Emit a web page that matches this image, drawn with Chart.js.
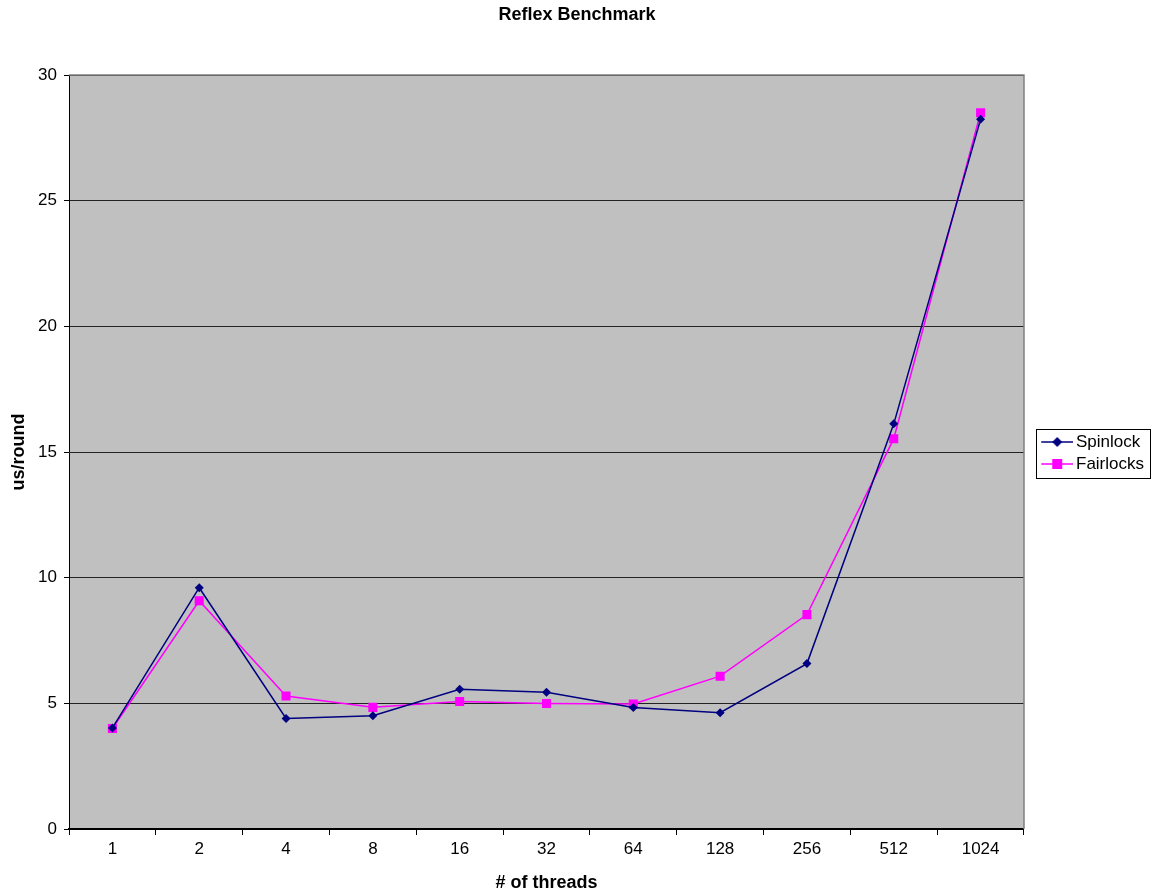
<!DOCTYPE html>
<html>
<head>
<meta charset="utf-8">
<script src="https://cdn.jsdelivr.net/npm/chart.js@4"></script>
<style>
  body { margin: 0; background: #fff; }
  #wrap { width: 1160px; height: 894px; }
</style>
</head>
<body>
<div id="wrap"><canvas id="chart" width="1160" height="894"></canvas></div>
<script>
const threads = ['1', '2', '4', '8', '16', '32', '64', '128', '256', '512', '1024'];
const spinlock = [4.02, 9.6, 4.4, 4.51, 5.56, 5.44, 4.83, 4.63, 6.58, 16.12, 28.24];
const fairlocks = [4.0, 9.08, 5.29, 4.84, 5.07, 4.99, 4.97, 6.08, 8.53, 15.53, 28.5];
const yTicks = [0, 5, 10, 15, 20, 25, 30];

const font = 'Liberation Sans, Arial, sans-serif';

// legend icon: a short line with the marker on it (drawn centred on the legend box)
function legendIcon(color, style) {
    const c = document.createElement('canvas');
    c.width = 50; c.height = 12;
    const ctx = c.getContext('2d');
    ctx.strokeStyle = color;
    ctx.lineWidth = 1.5;
    ctx.beginPath();
    ctx.moveTo(18, 6); ctx.lineTo(50, 6);
    ctx.stroke();
    ctx.fillStyle = color;
    if (style === 'diamond') {
        ctx.beginPath();
        ctx.moveTo(34, 1); ctx.lineTo(39, 6); ctx.lineTo(34, 11); ctx.lineTo(29, 6);
        ctx.closePath();
        ctx.fill();
    } else {
        ctx.fillRect(29, 1, 10, 10);
    }
    return c;
}

const plotFrame = {
    id: 'plotFrame',
    beforeDraw(chart) {
        const {ctx, chartArea: a} = chart;
        ctx.save();
        ctx.fillStyle = '#c0c0c0';
        ctx.fillRect(a.left, a.top, a.right - a.left, a.bottom - a.top);
        ctx.restore();
    },
    afterDraw(chart) {
        const {ctx, chartArea: a} = chart;
        ctx.save();
        ctx.strokeStyle = '#808080';
        ctx.lineWidth = 1.5;
        ctx.beginPath();
        ctx.moveTo(a.left, a.top); ctx.lineTo(a.right, a.top); ctx.lineTo(a.right, a.bottom);
        ctx.stroke();
        // legend frame
        const boxes = chart.legend.legendHitBoxes;
        if (boxes.length) {
            const x0 = Math.min(...boxes.map(b => b.left)) + 7;
            const x1 = Math.max(...boxes.map(b => b.left + b.width)) + 6;
            const y0 = Math.min(...boxes.map(b => b.top)) - 5;
            const y1 = Math.max(...boxes.map(b => b.top + b.height)) + 5;
            ctx.strokeStyle = '#000';
            ctx.lineWidth = 1;
            ctx.strokeRect(Math.round(x0) + 0.5, Math.round(y0) + 0.5, Math.round(x1 - x0), Math.round(y1 - y0));
        }
        ctx.restore();
    }
};

new Chart(document.getElementById('chart'), {
    type: 'line',
    data: {
        labels: threads,
        datasets: [{
            label: 'Spinlock',
            data: spinlock,
            borderColor: '#000080',
            backgroundColor: '#000080',
            borderWidth: 1.5,
            pointStyle: 'rectRot',
            pointRadius: 4.5,
            pointBorderWidth: 0,
            tension: 0
        }, {
            label: 'Fairlocks',
            data: fairlocks,
            borderColor: '#ff00ff',
            backgroundColor: '#ff00ff',
            borderWidth: 1.5,
            pointStyle: 'rect',
            pointRadius: 6.4,
            pointBorderWidth: 0,
            tension: 0
        }]
    },
    options: {
        responsive: false,
        animation: false,
        layout: { padding: { right: 6, bottom: 0 } },
        plugins: {
            title: {
                display: true,
                text: 'Reflex Benchmark',
                color: '#000',
                font: { family: font, size: 18, weight: 'bold' },
                padding: { top: 4.5, bottom: 48.9 }
            },
            legend: {
                position: 'right',
                align: 'center',
                // empty title only to push the items a little lower
                title: { display: true, text: ' ', font: { size: 1 }, padding: { top: 5.4, bottom: 5.4 } },
                labels: {
                    color: '#000',
                    font: { family: font, size: 17 },
                    usePointStyle: true,
                    pointStyleWidth: 38.5,
                    padding: 5,
                    generateLabels(chart) {
                        return chart.data.datasets.map((ds, i) => ({
                            text: ds.label,
                            datasetIndex: i,
                            fontColor: '#000',
                            pointStyle: legendIcon(ds.borderColor, i === 0 ? 'diamond' : 'square'),
                            lineWidth: 0,
                            strokeStyle: 'transparent',
                            fillStyle: 'transparent'
                        }));
                    }
                }
            },
            tooltip: { enabled: false }
        },
        scales: {
            x: {
                offset: true,
                grid: {
                    display: true,
                    offset: true,
                    drawOnChartArea: false,
                    drawTicks: true,
                    tickLength: 6,
                    color: '#000'
                },
                border: { color: '#000', width: 2 },
                ticks: { color: '#000', font: { family: font, size: 17 }, padding: 4 },
                title: {
                    display: true,
                    text: '# of threads',
                    color: '#000',
                    font: { family: font, size: 18, weight: 'bold' },
                    padding: { top: 0, bottom: 0 }
                },
                afterFit(scale) { scale.height = 65; }
            },
            y: {
                min: 0,
                max: 30,
                afterBuildTicks(scale) { scale.ticks = yTicks.map(v => ({ value: v })); },
                grid: {
                    color: (c) => c.tick && c.tick.value === 0 ? 'rgba(0,0,0,0)' : '#222',
                    lineWidth: 1,
                    tickLength: 5,
                    tickColor: '#000'
                },
                border: { color: '#000', width: 1 },
                ticks: { color: '#000', font: { family: font, size: 17 }, padding: 7 },
                title: {
                    display: true,
                    text: 'us/round',
                    color: '#000',
                    font: { family: font, size: 18, weight: 'bold' },
                    padding: { top: 8, bottom: 4 }
                },
                afterFit(scale) { scale.width = 69; }
            }
        }
    },
    plugins: [plotFrame]
});
</script>
</body>
</html>
